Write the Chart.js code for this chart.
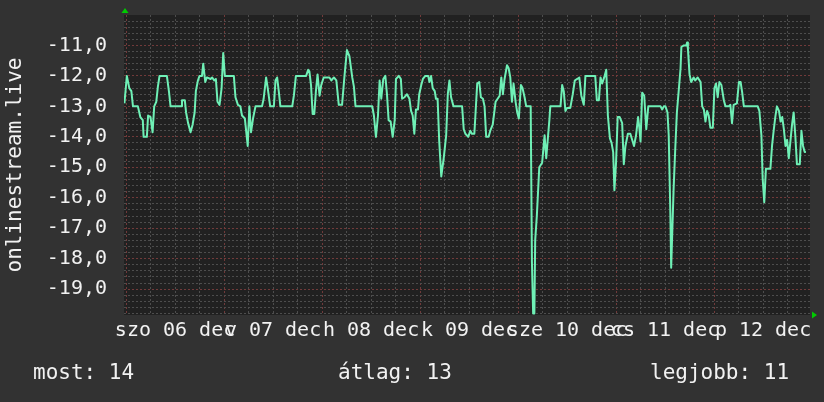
<!DOCTYPE html>
<html>
<head>
<meta charset="utf-8">
<script src="https://cdn.jsdelivr.net/npm/chart.js@4.4.1/dist/chart.umd.min.js"></script>
<style>
  html, body { margin: 0; padding: 0; background: #323232; }
  #wrap { width: 824px; height: 402px; }
</style>
</head>
<body>
<div id="wrap"><canvas id="chart" width="824" height="402"></canvas></div>
<script>
// hours since szo 06 dec 00:00
const hours = [
  -0.4, 0.2, 0.8, 1.3, 1.7, 2.9, 3.5, 4.1, 4.3, 5.1, 5.4, 6.0, 6.5, 6.9, 7.4, 7.8, 8.2, 10.0, 10.5, 10.9,
  13.5, 13.7, 14.4, 14.7, 15.2, 15.8, 16.3, 16.8, 17.1, 17.6, 18.0, 18.6, 18.9, 19.4, 19.8, 20.7, 21.1, 21.6, 22.0, 22.4,
  22.9, 23.4, 23.8, 24.2, 26.4, 26.8, 27.4, 28.0, 28.4, 29.1, 29.8, 30.2, 30.6, 31.1, 31.7, 33.3, 33.7, 34.3, 34.7, 35.3,
  36.2, 36.6, 37.0, 37.4, 37.8, 40.7, 41.1, 41.6, 44.1, 44.6, 44.9, 45.3, 45.7, 46.1, 46.5, 46.9, 47.4, 47.8, 48.4, 49.8,
  50.3, 50.9, 51.5, 52.1, 52.9, 53.5, 54.1, 54.7, 55.4, 55.8, 56.2, 60.3, 60.7, 61.2, 61.7, 62.1, 62.5, 63.0, 63.5, 63.9,
  64.3, 64.8, 65.3, 65.8, 66.1, 66.8, 67.3, 67.6, 68.2, 68.8, 69.4, 69.8, 70.2, 70.6, 71.0, 71.5, 71.8, 72.3, 72.7, 73.3,
  74.0, 74.3, 74.7, 75.1, 75.6, 75.9, 76.3, 76.7, 77.2, 77.8, 78.4, 78.8, 79.2, 79.6, 80.2, 82.3, 82.7, 83.1, 83.8, 84.3,
  84.7, 85.3, 85.6, 86.0, 86.5, 86.9, 87.4, 87.8, 88.2, 88.8, 89.2, 89.8, 90.5, 91.0, 91.5, 91.9, 92.3, 92.7, 93.3, 93.7,
  94.1, 94.5, 94.9, 95.4, 95.8, 96.2, 96.7, 97.1, 97.6, 98.0, 99.1, 99.4, 99.7, 100.0, 100.2, 100.6, 101.2, 101.9, 102.5, 102.9,
  103.7, 103.9, 106.4, 106.8, 107.2, 107.6, 108.0, 108.8, 109.4, 109.9, 110.5, 111.0, 111.5, 112.1, 112.5, 114.9, 115.3, 115.8, 116.2, 116.6,
  117.1, 117.6, 118.0, 118.5, 118.9, 119.3, 119.6, 120.0, 120.4, 120.9, 121.5, 121.9, 122.3, 122.9, 123.5, 124.4, 124.9, 125.4, 125.7, 126.0,
  126.4, 126.9, 127.4, 127.9, 130.9, 131.3, 131.7, 132.1, 132.6, 132.9, 133.3, 133.5, 133.8, 134.1, 134.5, 134.9, 135.4, 135.8, 136.0, 136.6,
  137.2, 137.4, 137.6, 138.0, 138.4, 139.0, 139.4, 140.0, 140.7, 141.1, 141.5, 141.9, 142.3, 142.7, 143.1, 143.7, 144.1, 144.5, 144.9, 145.3,
  145.8, 146.4, 146.8, 147.6, 148.0, 148.4, 148.8, 149.6, 150.1, 150.5, 150.9, 151.3, 154.7, 155.1, 155.6, 155.9, 156.3, 156.7, 157.8, 158.2,
  158.6, 159.0, 159.4, 159.9, 160.3, 160.7, 161.1, 161.5, 161.9, 162.3, 162.7, 163.1, 163.5, 163.9, 164.3, 165.0, 165.4, 165.8, 166.2, 166.5
];
const values = [
  -12.9, -12.0, -12.4, -12.5, -13.0, -13.0, -13.35, -13.45, -14.0, -14.0, -13.3, -13.35, -13.85, -13.0, -12.85, -12.35, -12.0, -12.0, -12.5, -13.0,
  -13.0, -12.8, -12.8, -13.2, -13.55, -13.85, -13.6, -13.2, -12.5, -12.15, -12.0, -12.0, -11.6, -12.2, -12.05, -12.1, -12.05, -12.15, -12.1, -12.85,
  -12.95, -12.4, -11.25, -12.0, -12.0, -12.7, -12.95, -13.0, -13.3, -13.4, -14.3, -13.0, -13.85, -13.4, -13.0, -13.0, -12.75, -12.05, -12.4, -13.0,
  -13.0, -12.15, -12.05, -12.5, -13.0, -13.0, -12.65, -12.0, -12.0, -11.8, -11.85, -12.3, -13.25, -13.25, -12.5, -11.95, -12.65, -12.3, -12.05, -12.05,
  -12.15, -12.05, -12.15, -12.95, -12.95, -12.0, -11.15, -11.35, -12.05, -12.35, -13.0, -13.0, -13.3, -14.0, -13.3, -12.15, -12.75, -12.1, -12.0, -12.6,
  -13.45, -13.5, -14.0, -13.45, -12.1, -12.0, -12.1, -12.75, -12.7, -12.6, -12.75, -13.15, -13.3, -13.9, -13.1, -13.1, -12.6, -12.3, -12.1, -12.0,
  -12.0, -12.2, -12.0, -12.4, -12.5, -12.75, -12.75, -14.15, -15.3, -14.7, -13.95, -12.6, -12.15, -12.7, -13.0, -13.0, -13.75, -13.9, -14.0, -13.8,
  -13.9, -13.9, -13.2, -12.25, -12.2, -12.7, -12.75, -13.0, -14.0, -14.0, -13.8, -13.6, -12.85, -12.75, -12.65, -12.05, -12.6, -12.1, -11.65, -11.75,
  -12.05, -12.85, -12.25, -12.85, -13.2, -13.4, -12.3, -12.4, -12.7, -13.0, -13.0, -18.1, -19.8, -19.8, -17.4, -16.6, -15.0, -14.85, -13.95, -14.7,
  -13.4, -13.0, -13.0, -12.3, -12.5, -13.15, -13.05, -13.05, -12.6, -12.15, -12.1, -12.05, -12.65, -12.95, -12.0, -12.0, -12.8, -12.8, -12.05, -12.25,
  -12.05, -11.8, -13.3, -14.05, -14.2, -14.5, -15.75, -14.85, -13.35, -13.35, -13.55, -14.9, -14.3, -13.9, -13.9, -14.3, -13.95, -13.35, -13.7, -14.15,
  -12.55, -12.65, -13.75, -13.0, -13.0, -13.1, -13.0, -13.0, -13.2, -13.95, -16.5, -18.3, -17.0, -15.7, -14.4, -13.2, -12.4, -11.75, -11.05, -11.0,
  -11.0, -10.9, -11.1, -11.95, -12.2, -12.05, -12.15, -12.05, -12.2, -13.0, -13.1, -13.5, -13.15, -13.3, -13.7, -13.7, -12.4, -12.25, -12.7, -12.2,
  -12.3, -12.8, -13.0, -13.0, -12.95, -13.55, -12.95, -12.9, -12.2, -12.2, -12.55, -13.0, -13.0, -13.15, -13.95, -15.35, -16.15, -15.05, -15.05, -14.3,
  -13.8, -13.35, -13.0, -13.15, -13.5, -13.35, -13.75, -14.3, -14.1, -14.7, -14.15, -13.6, -13.2, -13.95, -14.9, -14.9, -13.8, -14.3, -14.5, -14.5
];
const dayLabels = ['szo 06 dec', 'v 07 dec', 'h 08 dec', 'k 09 dec', 'sze 10 dec', 'cs 11 dec', 'p 12 dec'];
const yLabelValues = [-11, -12, -13, -14, -15, -16, -17, -18, -19];
const yTitle = 'onlinestream.live';
const legendLabels = ['most', 'átlag', 'legjobb'];
const legendValues = [14, 13, 11];

const MONO = "'DejaVu Sans Mono', monospace";
const minorColor = '#4d4d4d';
const majorColor = '#713a3a';
const textColor = '#f2f2f2';

const isMajorY = v => yLabelValues.some(m => Math.abs(m - v) < 1e-6);

const bgPlugin = {
  id: 'rrdLook',
  beforeDraw(chart) {
    const { ctx, chartArea: a } = chart;
    ctx.save();
    ctx.fillStyle = '#323232';
    ctx.fillRect(0, 0, chart.width, chart.height);
    ctx.fillStyle = '#212121';
    ctx.fillRect(a.left, a.top, a.right - a.left, a.bottom - a.top);
    ctx.restore();
  },
  afterDraw(chart) {
    const { ctx, chartArea: a } = chart;
    ctx.save();
    // axis arrows
    ctx.fillStyle = '#00cc00';
    ctx.beginPath();
    ctx.moveTo(a.left + 1, 8);
    ctx.lineTo(a.left - 2.5, 13);
    ctx.lineTo(a.left + 4.5, 13);
    ctx.closePath();
    ctx.fill();
    ctx.beginPath();
    ctx.moveTo(a.right + 7, a.bottom);
    ctx.lineTo(a.right + 2, a.bottom - 3.5);
    ctx.lineTo(a.right + 2, a.bottom + 3.5);
    ctx.closePath();
    ctx.fill();
    // gprint line
    ctx.fillStyle = textColor;
    ctx.font = '21px ' + MONO;
    ctx.textBaseline = 'middle';
    const xs = [33, 338, 650];
    legendLabels.forEach((l, i) => {
      ctx.fillText(l + ': ' + legendValues[i], xs[i], 374);
    });
    ctx.restore();
  }
};

new Chart(document.getElementById('chart'), {
  type: 'line',
  data: {
    datasets: [{
      data: hours.map((h, i) => ({ x: h, y: values[i] })),
      borderColor: '#6ff0b6',
      borderWidth: 2,
      borderJoinStyle: 'round',
      pointRadius: 0,
      tension: 0,
      fill: false
    }]
  },
  options: {
    responsive: false,
    animation: false,
    devicePixelRatio: 1,
    layout: { padding: { left: 0, top: 15, right: 14, bottom: 47 } },
    plugins: { legend: { display: false }, tooltip: { enabled: false } },
    scales: {
      x: {
        type: 'linear',
        min: -0.5,
        max: 167.5,
        afterBuildTicks: axis => {
          const t = [];
          for (let h = 0; h <= 162; h += 6) t.push({ value: h });
          axis.ticks = t;
        },
        afterFit: s => {
          s.height = 40;
          s.paddingLeft = 0;
          s.paddingRight = 0;
        },
        grid: {
          color: c => (c.tick && c.tick.value % 24 === 0 ? majorColor : minorColor),
          lineWidth: 1,
          drawTicks: false
        },
        border: { display: false, dash: [2, 2] },
        ticks: {
          autoSkip: false,
          maxRotation: 0,
          padding: 4,
          color: textColor,
          font: { family: MONO, size: 20 },
          callback: v => (v % 24 === 12 ? dayLabels[(v - 12) / 24] : '')
        }
      },
      y: {
        min: -19.85,
        max: -10,
        afterBuildTicks: axis => {
          const t = [];
          for (let k = -99; k <= -51; k++) t.push({ value: k / 5 });
          axis.ticks = t;
        },
        afterFit: s => {
          s.width = 124;
          s.paddingTop = 0;
          s.paddingBottom = 0;
        },
        grid: {
          color: c => (c.tick && isMajorY(c.tick.value) ? majorColor : minorColor),
          lineWidth: 1,
          drawTicks: false
        },
        border: { display: false, dash: [2, 2] },
        ticks: {
          autoSkip: false,
          padding: 17,
          color: textColor,
          font: { family: MONO, size: 20 },
          callback: v => (isMajorY(v) ? Math.round(v).toFixed(1).replace('.', ',') : '')
        },
        title: {
          display: true,
          text: yTitle,
          color: textColor,
          font: { family: MONO, size: 21 },
          padding: { top: 3, bottom: 0 }
        }
      }
    }
  },
  plugins: [bgPlugin]
});
</script>
</body>
</html>
